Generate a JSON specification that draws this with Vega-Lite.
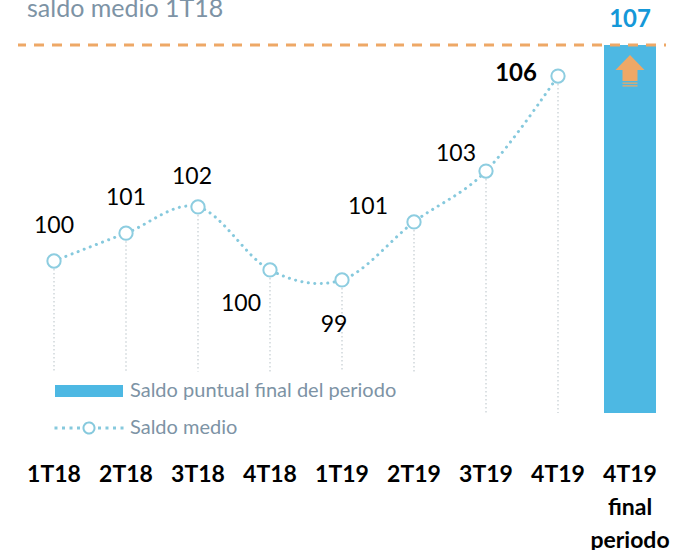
{
  "$schema": "https://vega.github.io/schema/vega-lite/v6.json",
  "width": 648,
  "height": 408,
  "autosize": "none",
  "padding": {"left": 18, "top": 5, "right": 31, "bottom": 137},
  "background": "white",
  "config": {"view": {"stroke": null}, "font": "Lato"},
  "data": {"values": [
    {"period": "1T18", "medio": 100.25, "label": "100"},
    {"period": "2T18", "medio": 101.12, "label": "101"},
    {"period": "3T18", "medio": 101.94, "label": "102"},
    {"period": "4T18", "medio": 99.97, "label": "100"},
    {"period": "1T19", "medio": 99.66, "label": "99"},
    {"period": "2T19", "medio": 101.47, "label": "101"},
    {"period": "3T19", "medio": 103.06, "label": "103"},
    {"period": "4T19", "medio": 106.03, "label": "106"},
    {"period": "4T19 final periodo", "final": 107, "label": "107"}
  ]},
  "encoding": {
    "x": {
      "field": "period", "type": "nominal", "sort": null,
      "scale": {"type": "band", "domain": ["1T18", "2T18", "3T18", "4T18", "1T19", "2T19", "3T19", "4T19", "4T19 final periodo"], "paddingInner": 0.2778, "paddingOuter": 0.1389},
      "axis": {"title": null, "domain": false, "ticks": false, "grid": false, "labelAngle": 0, "labelFont": "Lato", "labelFontWeight": "bold", "labelFontSize": 23, "labelColor": "#000000", "labelPadding": 50, "labelLineHeight": 33, "labelExpr": "split(datum.value, ' ')", "labelOverlap": false, "labelFlush": false, "labelBound": false}
    }
  },
  "layer": [
    {
      "transform": [{"filter": "isValid(datum.medio) && indexof(['3T19','4T19'], datum.period) < 0"}],
      "mark": {"type": "rule", "color": "#cfd6da", "strokeWidth": 1.5, "strokeDash": [1.5, 2.5]},
      "encoding": {
        "y": {"field": "medio", "type": "quantitative", "scale": {"domain": [95.5, 108.25], "zero": false, "nice": false}, "axis": null},
        "y2": {"datum": 96.8}
      }
    },
    {
      "transform": [{"filter": "indexof(['3T19','4T19'], datum.period) >= 0"}],
      "mark": {"type": "rule", "color": "#cfd6da", "strokeWidth": 1.5, "strokeDash": [1.5, 2.5]},
      "encoding": {
        "y": {"field": "medio", "type": "quantitative"},
        "y2": {"datum": 95.5}
      }
    },
    {
      "transform": [{"filter": "isValid(datum.medio)"}],
      "mark": {"type": "line", "interpolate": "cardinal", "strokeWidth": 3, "strokeDash": [0.1, 6.4], "strokeCap": "round"},
      "encoding": {
        "y": {"field": "medio", "type": "quantitative"},
        "stroke": {
          "datum": "Saldo medio",
          "scale": {"range": ["#86c9dd"]},
          "legend": {"title": null, "orient": "none", "legendX": 36, "legendY": 388, "padding": 0,
            "symbolType": "M-0.162,0A0.162,0.162 0 1,0 0.162,0A0.162,0.162 0 1,0 -0.162,0Z M-0.324,-0.015h0.03v0.03h-0.03Z M-0.544,-0.015h0.03v0.03h-0.03Z M-0.765,-0.015h0.03v0.03h-0.03Z M-0.986,-0.015h0.03v0.03h-0.03Z M0.294,-0.015h0.03v0.03h-0.03Z M0.514,-0.015h0.03v0.03h-0.03Z M0.735,-0.015h0.03v0.03h-0.03Z M0.956,-0.015h0.03v0.03h-0.03Z",
            "symbolSize": 4624, "symbolStrokeWidth": 2, "symbolDash": [1, 0], "symbolFillColor": "white",
            "labelFont": "Lato", "labelFontSize": 20, "labelColor": "#7d93a5", "labelOffset": 6, "labelLimit": 0}
        }
      }
    },
    {
      "transform": [{"filter": "isValid(datum.medio)"}],
      "mark": {"type": "point", "shape": "circle", "filled": true, "fill": "white", "stroke": "#8dcde0", "strokeWidth": 2, "size": 177, "opacity": 1},
      "encoding": {"y": {"field": "medio", "type": "quantitative"}}
    },
    {
      "transform": [{"filter": "isValid(datum.final)"}],
      "mark": {"type": "bar"},
      "encoding": {
        "y": {"field": "final", "type": "quantitative"},
        "y2": {"datum": 95.5},
        "fill": {
          "datum": "Saldo puntual final del periodo",
          "scale": {"range": ["#4db8e3"]},
          "legend": {"title": null, "orient": "none", "legendX": 37, "legendY": 352, "padding": 0,
            "symbolType": "M-1,-0.176H1V0.176H-1Z", "symbolSize": 4624, "symbolStrokeWidth": 0,
            "labelFont": "Lato", "labelFontSize": 20, "labelColor": "#7d93a5", "labelOffset": 7, "labelLimit": 0}
        }
      }
    },
    {
      "transform": [{"filter": "isValid(datum.final)"}],
      "mark": {"type": "point", "filled": true, "color": "#eea866", "opacity": 1, "strokeWidth": 0, "size": 900,
        "shape": "M0,0.667L0.967,1.667L0.5,1.667L0.5,2.4L-0.5,2.4L-0.5,1.667L-0.967,1.667Z M-0.5,2.5H0.5V2.58H-0.5Z M-0.5,2.68H0.5V2.76H-0.5Z"},
      "encoding": {"y": {"field": "final", "type": "quantitative"}}
    },
    {
      "transform": [{"filter": "isValid(datum.final)"}],
      "mark": {"type": "rule", "color": "#eea866", "strokeWidth": 3, "strokeDash": [10, 8], "strokeDashOffset": 8},
      "encoding": {"x": null, "y": {"field": "final", "type": "quantitative"}}
    },
    {
      "transform": [{"filter": "isValid(datum.final)"}],
      "mark": {"type": "text", "font": "Lato", "fontSize": 24, "fontWeight": "bold", "color": "#1598d8", "baseline": "middle", "dy": -25},
      "encoding": {"y": {"field": "final", "type": "quantitative"}, "text": {"field": "label"}}
    },
    {
      "transform": [{"filter": "datum.period == '1T18'"}],
      "mark": {"type": "text", "text": "saldo medio 1T18", "font": "Lato", "fontSize": 25, "fontWeight": "normal", "color": "#7d93a5", "align": "left", "baseline": "alphabetic", "dx": -27},
      "encoding": {"x": {"datum": "1T18"}, "y": {"datum": 107.875}}
    },
    {
      "transform": [{"filter": "indexof(['1T18','2T18'], datum.period) >= 0"}],
      "mark": {"type": "text", "font": "Lato", "fontSize": 23, "color": "#000000", "baseline": "middle", "dy": -35},
      "encoding": {"y": {"field": "medio", "type": "quantitative"}, "text": {"field": "label"}}
    },
    {
      "transform": [{"filter": "datum.period == '3T18'"}],
      "mark": {"type": "text", "font": "Lato", "fontSize": 23, "color": "#000000", "baseline": "middle", "dx": -6, "dy": -30},
      "encoding": {"y": {"field": "medio", "type": "quantitative"}, "text": {"field": "label"}}
    },
    {
      "transform": [{"filter": "datum.period == '4T18'"}],
      "mark": {"type": "text", "font": "Lato", "fontSize": 23, "color": "#000000", "baseline": "middle", "dx": -29, "dy": 34},
      "encoding": {"y": {"field": "medio", "type": "quantitative"}, "text": {"field": "label"}}
    },
    {
      "transform": [{"filter": "datum.period == '1T19'"}],
      "mark": {"type": "text", "font": "Lato", "fontSize": 23, "color": "#000000", "baseline": "middle", "dx": -8, "dy": 45},
      "encoding": {"y": {"field": "medio", "type": "quantitative"}, "text": {"field": "label"}}
    },
    {
      "transform": [{"filter": "datum.period == '2T19'"}],
      "mark": {"type": "text", "font": "Lato", "fontSize": 23, "color": "#000000", "baseline": "middle", "dx": -46, "dy": -15},
      "encoding": {"y": {"field": "medio", "type": "quantitative"}, "text": {"field": "label"}}
    },
    {
      "transform": [{"filter": "datum.period == '3T19'"}],
      "mark": {"type": "text", "font": "Lato", "fontSize": 23, "color": "#000000", "baseline": "middle", "dx": -30, "dy": -17},
      "encoding": {"y": {"field": "medio", "type": "quantitative"}, "text": {"field": "label"}}
    },
    {
      "transform": [{"filter": "datum.period == '4T19'"}],
      "mark": {"type": "text", "font": "Lato", "fontSize": 24, "fontWeight": "bold", "color": "#000000", "baseline": "middle", "dx": -42, "dy": -2},
      "encoding": {"y": {"field": "medio", "type": "quantitative"}, "text": {"field": "label"}}
    }
  ]
}
